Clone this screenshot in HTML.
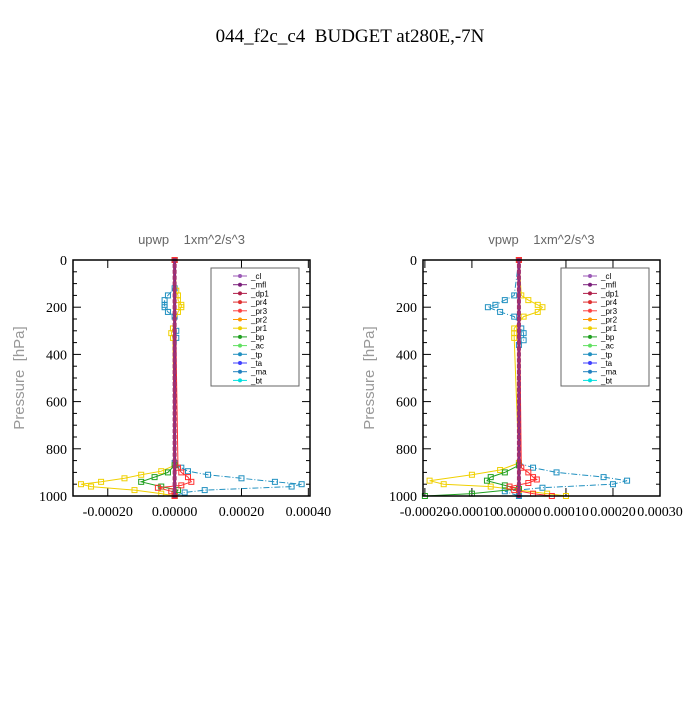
<!DOCTYPE html>
<html><head><meta charset="utf-8">
<style>
body{margin:0;background:#fff;width:700px;height:700px;overflow:hidden}
svg text{font-family:"Liberation Serif",serif;white-space:pre}
.sans{font-family:"Liberation Sans",sans-serif}
</style></head>
<body>
<svg id="chart" width="700" height="700" xmlns="http://www.w3.org/2000/svg">
<text x="350" y="42" text-anchor="middle" font-size="19">044_f2c_c4  BUDGET at280E,-7N</text>
</svg>
<script>
// shared data
const pTicks = [0,200,400,600,800,1000];
const legendNames = ["_cl","_mfl","_dp1","_pr4","_pr3","_pr2","_pr1","_bp","_ac","_tp","_ta","_ma","_bt"];
const legendColors = ["#9b59b6","#7b1f7b","#b0204a","#e03030","#ff4040","#ff9900","#f0d000","#20a020","#60e060","#2090c0","#4040ff","#2080c0","#00e0e0"];
// upwp panel
const uTicks = [-0.0002,0,0.0002,0.0004];
const uTickLabels = ["-0.00020","0.00000","0.00020","0.00040"];
const uTpP = [0,120,150,170,190,200,220,240,300,330,860,880,895,910,925,940,950,960,975,985,1000];
const uTpV = [0,0,-0.00002,-0.00003,-0.00003,-0.00003,-0.00002,0,0.000005,0.000005,0,0.00002,0.00004,0.0001,0.0002,0.0003,0.00038,0.00035,0.00009,0.00003,0];
const uPr1P = [0,130,150,170,190,200,220,290,310,330,870,895,910,925,940,950,960,975,990,1000];
const uPr1V = [0,0.000005,0.00001,0.00001,0.00002,0.00002,0.00001,-0.000005,-0.00001,-0.000005,0,-0.00004,-0.0001,-0.00015,-0.00022,-0.00028,-0.00025,-0.00012,-0.00004,0];
const uBpP = [0,870,900,920,940,960,975,990,1000];
const uBpV = [0,0,-0.00002,-0.00006,-0.0001,-0.00004,0.00001,0,0];
const uPr3P = [0,880,900,920,940,955,965,980,1000];
const uPr3V = [0,0.00001,0.00002,0.00004,0.00005,0.00002,-0.00005,-0.00001,0];
// vpwp panel
const vTicks = [-0.0002,-0.0001,0,0.0001,0.0002,0.0003];
const vTickLabels = ["-0.00020","-0.00010","0.00000","0.00010","0.00020","0.00030"];
const vTpP = [0,150,170,190,200,220,240,290,310,340,360,860,880,900,920,935,950,965,980,1000];
const vTpV = [0,-0.00001,-0.00003,-0.00005,-0.000066,-0.00004,-0.00001,0.000005,0.00001,0.00001,0,0,0.00003,0.00008,0.00018,0.00023,0.0002,0.00005,-0.00003,0];
const vPr1P = [0,150,170,190,200,220,240,290,310,330,860,890,910,935,950,960,975,990,1000];
const vPr1V = [0,0.000005,0.00002,0.00004,0.00005,0.00004,0.00001,-0.00001,-0.00001,-0.00001,0,-0.00004,-0.0001,-0.00019,-0.00016,-0.00006,0,0.00006,0.0001];
const vBpP = [0,870,900,920,935,955,970,990,1000];
const vBpV = [0,0,-0.00003,-0.00006,-0.000068,-0.00003,0,-0.0001,-0.0002];
const vPr3P = [0,880,900,920,930,945,960,975,990,1000];
const vPr3V = [0,0.000005,0.00002,0.00003,0.000038,0.00002,-0.00002,-0.00001,0.00003,0.00007];

const svg = document.getElementById('chart');
const NS = 'http://www.w3.org/2000/svg';
function mk(tag, attrs, parent){const e=document.createElementNS(NS,tag);for(const k in attrs)e.setAttribute(k,attrs[k]);(parent||svg).appendChild(e);return e;}

function panel(name, x0, x1, xmin, xmax, xticks, xlabels, title, series){
  const y0=260, y1=496;
  const g = mk('g',{});
  
  
  const sx = v => x0 + (v-xmin)/(xmax-xmin)*(x1-x0);
  const sy = p => y0 + p/1000*(y1-y0);
  const t = mk('text',{x:(x0+x1)/2,y:244,'text-anchor':'middle','font-size':13,fill:'#666','class':'sans'},g);
  t.textContent = title;
  
  
  const yt = mk('text',{x:0,y:0,'text-anchor':'middle','font-size':15,fill:'#999','class':'sans',transform:`translate(${x0-49},${(y0+y1)/2}) rotate(-90)`},g);
  yt.textContent = 'Pressure  [hPa]';
  
  
  for(let p=0;p<=1000;p+=50){
    const len = p%200===0?8:4;
    mk('line',{x1:x0,x2:x0+len,y1:sy(p),y2:sy(p),stroke:'#000'},g);
    mk('line',{x1:x1,x2:x1-len,y1:sy(p),y2:sy(p),stroke:'#000'},g);
  }
  pTicks.forEach(p=>{
    const l = mk('text',{x:x0-6,y:sy(p)+5,'text-anchor':'end','font-size':14},g);
    l.textContent = p;
    
    
  });
  xticks.forEach((v,i)=>{
    mk('line',{x1:sx(v),x2:sx(v),y1:y1,y2:y1-8,stroke:'#000'},g);
    mk('line',{x1:sx(v),x2:sx(v),y1:y0,y2:y0+8,stroke:'#000'},g);
    const l = mk('text',{x:sx(v),y:y1+20,'text-anchor':'middle','font-size':14},g);
    l.textContent = xlabels[i];
    
    
  });
  series.forEach(s=>{
    const pts = s.p.map((p,i)=>sx(s.v[i]).toFixed(1)+','+sy(p).toFixed(1)).join(' ');
    const pl = mk('polyline',{points:pts,fill:'none',stroke:s.c,'stroke-width':1,'stroke-dasharray':s.d||''},g);
    
    
    s.p.forEach((p,i)=>{
      const m = mk('rect',{x:sx(s.v[i])-2.5,y:sy(p)-2.5,width:5,height:5,fill:'none',stroke:s.c},g);
      
      
    });
  });
  const zl = mk('line',{x1:sx(0),x2:sx(0),y1:y0,y2:y1,stroke:'#b0204a','stroke-width':3},g);
  
  
  mk('line',{x1:sx(0),x2:sx(0),y1:y0,y2:y1,stroke:'#7b2f9b','stroke-width':1.5},g);
  for(let p=0;p<=1000;p+=25) mk('rect',{x:sx(0)-2,y:sy(p)-2,width:4,height:4,fill:'#a03070'},g);
  mk('rect',{x:x0,y:y0,width:x1-x0,height:y1-y0,fill:'none',stroke:'#000','stroke-width':1.5},g);
  const lx = x0+138;
  const lg = mk('g',{},g);
  
  
  mk('rect',{x:lx,y:268,width:88,height:118,fill:'#fff',stroke:'#666'},lg);
  legendNames.forEach((n,i)=>{
    const yy = 276+i*8.7;
    mk('line',{x1:lx+22,x2:lx+36,y1:yy,y2:yy,stroke:legendColors[i]},lg);
    mk('circle',{cx:lx+29,cy:yy,r:2,fill:legendColors[i]},lg);
    const lt = mk('text',{x:lx+40,y:yy+3,'font-size':8,'class':'sans'},lg);
    lt.textContent = n;
    
    
  });
}

panel('upwp',73,310,-0.000304,0.000405,uTicks,uTickLabels,'upwp    1xm^2/s^3',[
  {n:'tp',p:uTpP,v:uTpV,c:'#2090c0',d:'6,2,1,2'},
  {n:'pr1',p:uPr1P,v:uPr1V,c:'#f0d000'},
  {n:'bp',p:uBpP,v:uBpV,c:'#20a020'},
  {n:'pr3',p:uPr3P,v:uPr3V,c:'#ff3030'}
]);
panel('vpwp',423,660,-0.000204,0.0003,vTicks,vTickLabels,'vpwp    1xm^2/s^3',[
  {n:'tp',p:vTpP,v:vTpV,c:'#2090c0',d:'6,2,1,2'},
  {n:'pr1',p:vPr1P,v:vPr1V,c:'#f0d000'},
  {n:'bp',p:vBpP,v:vBpV,c:'#20a020'},
  {n:'pr3',p:vPr3P,v:vPr3V,c:'#ff3030'}
]);
</script>
</body></html>
